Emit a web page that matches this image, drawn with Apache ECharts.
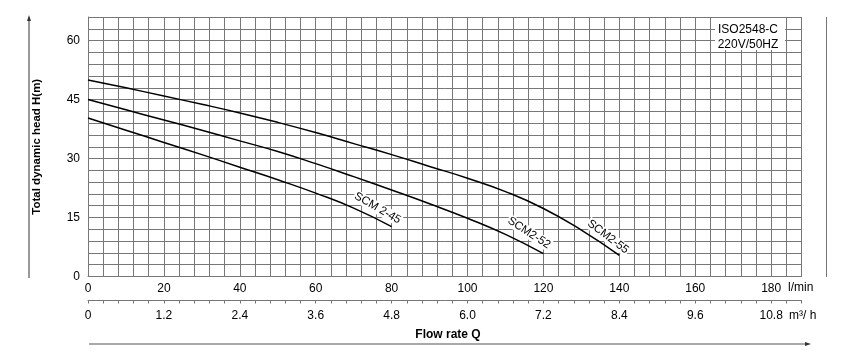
<!DOCTYPE html>
<html>
<head>
<meta charset="utf-8">
<script src="https://cdn.jsdelivr.net/npm/echarts@6/dist/echarts.min.js"></script>
<style>html,body{margin:0;padding:0;background:#fff;}#c{width:847px;height:362px;}</style>
</head>
<body>
<div id="c"></div>
<script>
// ---- data ----
const seriesNames = ['SCM2-55', 'SCM2-52', 'SCM 2-45'];
const q55 = [0, 10, 20, 30, 40, 50, 60, 70, 80, 90, 100, 110, 120, 130, 140];
const h55 = [50, 48, 45.9, 43.8, 41.6, 39.2, 36.6, 33.8, 31.0, 28.0, 25.0, 21.6, 17.3, 11.8, 5.4];
const q52 = [0, 10, 20, 30, 40, 50, 60, 70, 80, 90, 100, 110, 120];
const h52 = [45, 42.4, 39.8, 37.2, 34.5, 31.8, 28.7, 25.4, 22.0, 18.5, 14.8, 10.7, 5.8];
const q45 = [0, 10, 20, 30, 40, 50, 60, 70, 80];
const h45 = [40.3, 37.2, 34.1, 31.0, 27.8, 24.6, 21.2, 17.4, 12.7];
const yTickLabels = [0, 15, 30, 45, 60];
const xTickLabels = [0, 20, 40, 60, 80, 100, 120, 140, 160, 180];
const m3hTickLabels = ['0', '1.2', '2.4', '3.6', '4.8', '6.0', '7.2', '8.4', '9.6', '10.8'];
// label anchor points (data coords) for curve names
const labelQ = [137, 116.2, 76.3];
const labelH = [10.1, 11.1, 17.4];
const labelRot = [-37, -33, -30];

const FONT = "'Liberation Sans', Arial, sans-serif";
const GRID_COLOR = '#777';

function pairs(q, h) { return q.map((v, i) => [v, h[i]]); }
const qs = [q55, q52, q45], hs = [h55, h52, h45];

const series = seriesNames.map((name, i) => ({
  type: 'line',
  name: name,
  data: pairs(qs[i], hs[i]),
  smooth: 0.5,
  symbol: 'none',
  lineStyle: { color: '#000', width: 1.5 },
  z: 5,
  markPoint: {
    symbol: 'rect', symbolSize: 0,
    data: [{ coord: [labelQ[i], labelH[i]] }],
    label: {
      show: true, formatter: name, rotate: labelRot[i],
      color: '#000', fontFamily: FONT, fontSize: 11.5,
      backgroundColor: '#fff', padding: [0, 1, 0, 1], position: 'inside'
    }
  }
}));

const chart = echarts.init(document.getElementById('c'), null, { renderer: 'canvas' });
chart.setOption({
  animation: false,
  backgroundColor: '#fff',
  grid: { left: 88, top: 17, right: 45.5, bottom: 85.5, containLabel: false },
  xAxis: [
    {
      type: 'value', min: 0, max: 188, interval: 4, position: 'bottom',
      axisLine: { show: true, lineStyle: { color: GRID_COLOR } },
      axisTick: { show: false },
      splitLine: { show: true, lineStyle: { color: GRID_COLOR, width: 1 } },
      axisLabel: {
        margin: 6, color: '#000', fontFamily: FONT, fontSize: 12,
        formatter: v => xTickLabels.indexOf(v) >= 0 ? String(v) : ''
      }
    },
    {
      type: 'value', min: 0, max: 188, interval: 4, position: 'bottom', offset: 24,
      axisLine: { show: true, lineStyle: { color: GRID_COLOR } },
      axisTick: { show: true, length: 3, lineStyle: { color: GRID_COLOR } },
      splitLine: { show: false },
      axisLabel: {
        margin: 9, color: '#000', fontFamily: FONT, fontSize: 12,
        formatter: v => { const k = xTickLabels.indexOf(v); return k >= 0 ? m3hTickLabels[k] : ''; }
      }
    }
  ],
  yAxis: {
    type: 'value', min: 0, max: 66, interval: 3,
    axisLine: { show: true, lineStyle: { color: GRID_COLOR } },
    axisTick: { show: false },
    splitLine: { show: true, lineStyle: { color: GRID_COLOR, width: 1 } },
    axisLabel: {
      margin: 8, color: '#000', fontFamily: FONT, fontSize: 12,
      formatter: v => yTickLabels.indexOf(v) >= 0 ? String(v) : ''
    },
    name: 'Total dynamic head H(m)', nameLocation: 'middle', nameGap: 45, nameRotate: 90,
    nameTextStyle: { color: '#000', fontFamily: FONT, fontSize: 11.5, fontWeight: 'bold' }
  },
  graphic: [
    // left arrow axis
    { type: 'line', shape: { x1: 29, y1: 19, x2: 29, y2: 278 }, style: { stroke: '#555', lineWidth: 1.2 } },
    { type: 'polygon', shape: { points: [[29, 15], [27, 21], [31, 21]] }, style: { fill: '#333' } },
    // bottom arrow
    { type: 'line', shape: { x1: 89, y1: 344, x2: 806, y2: 344 }, style: { stroke: '#555', lineWidth: 1.2 } },
    { type: 'polygon', shape: { points: [[811, 344], [805, 342], [805, 346]] }, style: { fill: '#333' } },
    // right line
    { type: 'line', shape: { x1: 826.5, y1: 17, x2: 826.5, y2: 277 }, style: { stroke: '#777', lineWidth: 1 } },
    // ISO box
    { type: 'rect', shape: { x: 715, y: 18, width: 70, height: 32 }, style: { fill: '#fff' }, z: 10 },
    { type: 'text', x: 748, y: 30, z: 11, style: { text: 'ISO2548-C', fill: '#000', font: '12px ' + FONT, textAlign: 'center', textVerticalAlign: 'middle' } },
    { type: 'text', x: 748, y: 45, z: 11, style: { text: '220V/50HZ', fill: '#000', font: '12px ' + FONT, textAlign: 'center', textVerticalAlign: 'middle' } },
    // unit labels
    { type: 'text', x: 788, y: 288, style: { text: 'l/min', fill: '#000', font: '12px ' + FONT, textAlign: 'left', textVerticalAlign: 'middle' } },
    { type: 'text', x: 789, y: 316, style: { text: 'm³/ h', fill: '#000', font: '12px ' + FONT, textAlign: 'left', textVerticalAlign: 'middle' } },
    { type: 'text', x: 448, y: 335, style: { text: 'Flow rate Q', fill: '#000', font: 'bold 12px ' + FONT, textAlign: 'center', textVerticalAlign: 'middle' } }
  ],
  series: series
});
</script>
</body>
</html>
